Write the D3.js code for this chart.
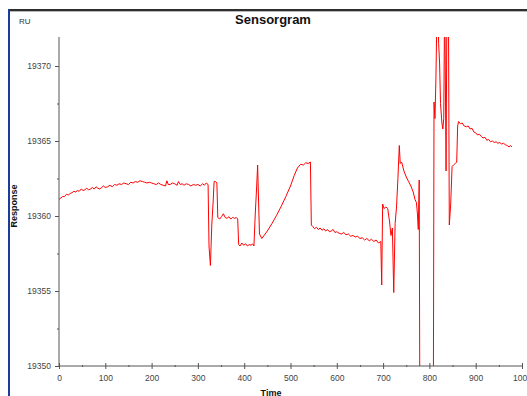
<!DOCTYPE html>
<html><head><meta charset="utf-8">
<script src="https://cdn.jsdelivr.net/npm/d3@7"></script>
<style>html,body{margin:0;padding:0;background:#fff;overflow:hidden}svg{display:block}</style>
</head><body>
<script>
const title = "Sensorgram";
const yUnit = "RU";
const yTitle = "Response";
const xTitle = "Time";
const xTicks = [0,100,200,300,400,500,600,700,800,900,1000];
const yTicks = [19350,19355,19360,19365,19370];
const yMinorTicks = [19352.5,19357.5,19362.5,19367.5];
const xMinorTicks = [50,150,250,350,450,550,650,750,850,950];
// [time, response] pairs
const sensorgram = [
[0,19361.1],[4,19361.2],[8,19361.3],[12,19361.3],[16,19361.45],[20,19361.4],[24,19361.5],[28,19361.55],[32,19361.65],[36,19361.6],[40,19361.7],[44,19361.65],[48,19361.8],[52,19361.7],[56,19361.75],[60,19361.85],[64,19361.75],[68,19361.8],[72,19361.9],[76,19361.8],[80,19361.95],[84,19361.85],[88,19361.8],[92,19361.9],[96,19362.0],[100,19361.9],[105,19361.95],[110,19362.05],[115,19361.95],[120,19362.1],[125,19362.05],[130,19362.15],[135,19362.1],[140,19362.2],[145,19362.15],[150,19362.1],[155,19362.25],[160,19362.2],[165,19362.3],[170,19362.25],[175,19362.35],[180,19362.3],[185,19362.25],[190,19362.2],[195,19362.25],[200,19362.2],[205,19362.15],[210,19362.1],[215,19362.2],[220,19362.1],[225,19362.05],[230,19362.0],[233,19362.35],[236,19362.1],[240,19362.1],[245,19362.2],[250,19362.15],[255,19362.05],[258,19362.3],[262,19362.1],[266,19362.15],[270,19362.05],[275,19362.15],[280,19362.1],[285,19362.0],[290,19362.1],[295,19362.05],[300,19362.1],[305,19362.0],[310,19362.15],[314,19362.05],[318,19362.2],[322,19362.1],
[324,19358.0],[327,19356.7],[330,19359.4],[333,19361.0],[335,19362.3],[338,19362.3],[341,19362.2],[343,19359.9],[347,19359.8],[351,19359.95],[355,19360.15],[359,19359.9],[363,19359.85],[367,19359.95],[371,19359.8],[375,19359.9],[379,19359.85],[383,19359.9],[386,19359.8],[388,19358.1],[391,19358.0],[395,19358.2],[399,19358.05],[403,19358.15],[407,19358.0],[411,19358.1],[415,19358.05],[418,19358.15],[421,19358.0],[424,19360.2],[427,19362.0],[429,19363.4],[431,19361.0],[433,19358.8],[438,19358.5],[450,19359.0],[460,19359.5],[470,19360.05],[480,19360.65],[490,19361.3],[500,19362.0],[508,19362.7],[515,19363.2],[522,19363.45],[528,19363.4],[533,19363.55],[538,19363.5],[543,19363.6],
[545,19359.4],[548,19359.3],[552,19359.15],[556,19359.25],[560,19359.1],[564,19359.2],[568,19359.05],[572,19359.15],[576,19359.0],[580,19359.1],[584,19358.95],[588,19359.0],[592,19359.1],[596,19358.9],[600,19358.95],[605,19358.85],[610,19358.8],[615,19358.9],[620,19358.75],[625,19358.8],[630,19358.65],[635,19358.7],[640,19358.6],[645,19358.65],[650,19358.5],[655,19358.55],[660,19358.4],[665,19358.5],[670,19358.35],[675,19358.45],[680,19358.3],[685,19358.4],[690,19358.2],[695,19358.3],
[697,19355.4],[699,19360.8],[702,19360.5],[706,19360.6],[710,19360.5],[714,19359.6],[717,19358.7],[720,19359.2],[723,19354.9],[726,19359.5],[729,19360.6],[732,19362.5],[735,19364.7],[737,19363.5],[740,19363.6],[745,19363.0],[750,19362.6],[755,19362.3],[760,19362.0],[765,19361.6],[769,19361.1],[772,19360.9],[774,19360.2],[776,19359.1],[778,19362.4],[780,19340],[808,19340],
[810,19367.6],[812,19366.5],[814,19369.0],[816,19373.0],[818,19374.0],[820,19371.5],[822,19370.2],[824,19367.5],[827,19366.2],[829,19365.8],[831,19366.5],[833,19375.0],[836,19363.0],[838,19375.0],[841,19375.0],[843,19359.4],[846,19360.8],[849,19363.3],[852,19363.4],[856,19363.5],[859,19363.6],[861,19366.0],[863,19366.3],
[867,19366.15],[871,19366.2],[875,19366.0],[880,19365.95],[884,19366.0],[888,19365.8],[892,19365.85],[896,19365.6],[900,19365.55],[904,19365.4],[908,19365.45],[912,19365.3],[916,19365.2],[920,19365.25],[924,19365.05],[928,19365.1],[932,19364.95],[936,19365.0],[940,19364.9],[944,19364.95],[948,19364.85],[952,19364.9],[956,19364.8],[960,19364.85],[964,19364.75],[968,19364.7],[972,19364.6],[975,19364.7],[978,19364.6]
];

const W = 527, H = 396;
const svg = d3.select("body").append("svg").attr("width", W).attr("height", H);
const font = "Arial, 'Liberation Sans', sans-serif";

const x = d3.scaleLinear().domain([0, 1000]).range([59, 522]);
const y = d3.scaleLinear().domain([19350, 19370]).range([366, 66]);
const yTop = 37;

// frame
svg.append("rect").attr("x", 9).attr("y", 9).attr("width", W - 9).attr("height", 2).attr("fill", "#2e2e2e");
svg.append("rect").attr("x", 9).attr("y", 11).attr("width", W - 9).attr("height", 1).attr("fill", "#b8b8b8");
svg.append("rect").attr("x", 8).attr("y", 9).attr("width", 2).attr("height", H - 9).attr("fill", "#1c3c9c");

svg.append("text").attr("x", 273).attr("y", 24).attr("text-anchor", "middle")
  .attr("font-family", font).attr("font-size", 13).attr("font-weight", "bold").attr("fill", "#111").text(title);
svg.append("text").attr("x", 19).attr("y", 24).attr("font-family", font).attr("font-size", 8).attr("fill", "#333").text(yUnit);
svg.append("text").attr("transform", "translate(17,206) rotate(-90)").attr("text-anchor", "middle")
  .attr("font-family", font).attr("font-size", 9).attr("font-weight", "bold").attr("fill", "#111").text(yTitle);
svg.append("text").attr("x", 271).attr("y", 396).attr("text-anchor", "middle")
  .attr("font-family", font).attr("font-size", 9).attr("font-weight", "bold").attr("fill", "#111").text(xTitle);

// clip
svg.append("clipPath").attr("id", "plot").append("rect")
  .attr("x", 59).attr("y", yTop).attr("width", 463).attr("height", 366 - yTop);

const line = d3.line().x(d => x(d[0])).y(d => y(d[1]));
svg.append("path").datum(sensorgram).attr("clip-path", "url(#plot)")
  .attr("d", line).attr("fill", "none").attr("stroke", "#ff0000").attr("stroke-width", 1).attr("stroke-linejoin", "round");

// y axis
const gy = svg.append("g").attr("transform", "translate(59,0)");
gy.call(d3.axisLeft(y).tickValues(yTicks).tickSize(4).tickPadding(4).tickFormat(d3.format("d")));
gy.select(".domain").attr("d", `M0,${yTop}V366`);
const gym = svg.append("g").attr("transform", "translate(59,0)");
gym.call(d3.axisLeft(y).tickValues(yMinorTicks).tickSize(2).tickFormat(""));
gym.select(".domain").remove();

// x axis
const gx = svg.append("g").attr("transform", "translate(0,366)");
gx.call(d3.axisBottom(x).tickValues(xTicks).tickSize(3).tickPadding(6).tickFormat(d3.format("d")));
gx.selectAll(".tick line").attr("y1", -3);
gx.select(".domain").attr("d", "M59,0H522");
const gxm = svg.append("g").attr("transform", "translate(0,366)");
gxm.call(d3.axisBottom(x).tickValues(xMinorTicks).tickSize(1).tickFormat(""));
gxm.selectAll(".tick line").attr("y1", -1);
gxm.select(".domain").remove();

svg.selectAll(".domain").attr("stroke", "#555");
svg.selectAll(".tick line").attr("stroke", "#555");
svg.selectAll(".tick text").attr("font-family", font).attr("font-size", 8.5).attr("fill", "#444");
</script>
</body></html>
